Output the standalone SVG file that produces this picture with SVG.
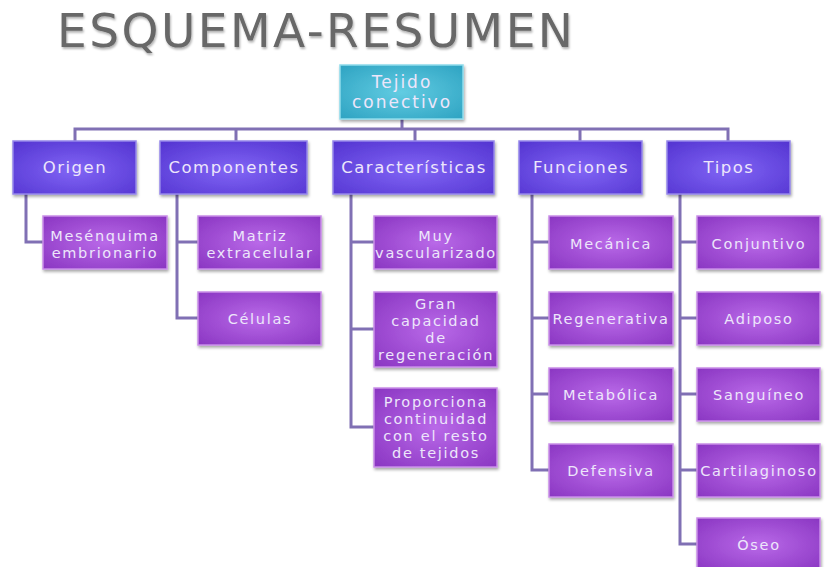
<svg xmlns="http://www.w3.org/2000/svg" width="826" height="567" viewBox="0 0 826 567">
<defs>
<radialGradient id="gL1" cx="0.5" cy="0.55" r="0.7">
<stop offset="0" stop-color="#8165f5"/>
<stop offset="1" stop-color="#5536d2"/>
</radialGradient>
<radialGradient id="gL2" cx="0.5" cy="0.5" r="0.7">
<stop offset="0" stop-color="#b969e8"/>
<stop offset="1" stop-color="#8a36c2"/>
</radialGradient>
<radialGradient id="gRoot" cx="0.5" cy="0.5" r="0.7">
<stop offset="0" stop-color="#62cce2"/>
<stop offset="1" stop-color="#2ea3c2"/>
</radialGradient>
<filter id="sh" x="-10%" y="-10%" width="125%" height="135%">
<feDropShadow dx="1" dy="2" stdDeviation="1.5" flood-color="#000" flood-opacity="0.35"/>
</filter>
<filter id="tsh" x="-5%" y="-10%" width="110%" height="130%">
<feDropShadow dx="1" dy="2" stdDeviation="1.2" flood-color="#000" flood-opacity="0.3"/>
</filter>
</defs>
<style>
.title{font-family:"DejaVu Sans",sans-serif;font-size:47px;fill:#676767}
.l1 rect{fill:url(#gL1);stroke:#9586ea;stroke-width:1.5;filter:url(#sh)}
.l2 rect{fill:url(#gL2);stroke:#c98ee8;stroke-width:1.5;filter:url(#sh)}
.root rect{fill:url(#gRoot);stroke:#8fdcec;stroke-width:1.5;filter:url(#sh)}
text.t{font-family:"DejaVu Sans",sans-serif;fill:#ede6fb;text-anchor:middle}
.l1 text{font-size:16.5px;letter-spacing:1.5px}
.l2 text{font-size:14.5px;letter-spacing:1.7px}
.root text{font-size:17px;letter-spacing:2px}
.conn path{fill:none;stroke:#8070b4;stroke-width:3}
</style>
<rect width="826" height="567" fill="#ffffff"/>
<text class="title" x="57" y="47" textLength="516" lengthAdjust="spacing" filter="url(#tsh)">ESQUEMA-RESUMEN</text>

<g class="conn" id="connectors">
<path d="M402 119V129M75 141V129H728V141M236 129V141M415 129V141M580 129V141"/>
<path d="M26 194V242H43"/>
<path d="M177 194V318H198M177 242H198"/>
<path d="M351 194V427H374M351 242H374M351 329H374"/>
<path d="M532 194V470H549M532 242H549M532 318H549M532 394H549"/>
<path d="M680 194V544H697M680 242H697M680 318H697M680 394H697M680 470H697"/>
</g>

<g class="root" id="tejido">
<rect x="340" y="65" width="123" height="54"/>
<text class="t" x="402" y="88">Tejido</text>
<text class="t" x="402" y="108">conectivo</text>
</g>

<g class="l1" id="origen"><rect x="13" y="141" width="123" height="53"/><text class="t" x="75" y="173">Origen</text></g>
<g class="l1" id="componentes"><rect x="160" y="141" width="147" height="53"/><text class="t" x="234" y="173">Componentes</text></g>
<g class="l1" id="caracteristicas"><rect x="333" y="141" width="161" height="53"/><text class="t" x="414" y="173">Características</text></g>
<g class="l1" id="funciones"><rect x="519" y="141" width="123" height="53"/><text class="t" x="581" y="173">Funciones</text></g>
<g class="l1" id="tipos"><rect x="667" y="141" width="123" height="53"/><text class="t" x="729" y="173">Tipos</text></g>

<g class="l2" id="mesenquima"><rect x="43" y="216" width="124" height="53"/><text class="t" x="105" y="241">Mesénquima</text><text class="t" x="105" y="258">embrionario</text></g>
<g class="l2" id="matriz"><rect x="198" y="216" width="123" height="53"/><text class="t" x="260" y="241">Matriz</text><text class="t" x="260" y="258">extracelular</text></g>
<g class="l2" id="celulas"><rect x="198" y="292" width="123" height="53"/><text class="t" x="260" y="324">Células</text></g>

<g class="l2" id="muy"><rect x="374" y="216" width="123" height="53"/><text class="t" x="436" y="241">Muy</text><text class="t" x="436" y="258">vascularizado</text></g>
<g class="l2" id="gran"><rect x="374" y="292" width="123" height="75"/><text class="t" x="436" y="309">Gran</text><text class="t" x="436" y="326">capacidad</text><text class="t" x="436" y="343">de</text><text class="t" x="436" y="360">regeneración</text></g>
<g class="l2" id="proporciona"><rect x="374" y="388" width="123" height="79"/><text class="t" x="436" y="407">Proporciona</text><text class="t" x="436" y="424">continuidad</text><text class="t" x="436" y="441">con el resto</text><text class="t" x="436" y="458">de tejidos</text></g>

<g class="l2" id="mecanica"><rect x="549" y="216" width="124" height="53"/><text class="t" x="611" y="249">Mecánica</text></g>
<g class="l2" id="regenerativa"><rect x="549" y="292" width="124" height="53"/><text class="t" x="611" y="324">Regenerativa</text></g>
<g class="l2" id="metabolica"><rect x="549" y="368" width="124" height="53"/><text class="t" x="611" y="400">Metabólica</text></g>
<g class="l2" id="defensiva"><rect x="549" y="444" width="124" height="53"/><text class="t" x="611" y="476">Defensiva</text></g>

<g class="l2" id="conjuntivo"><rect x="697" y="216" width="123" height="53"/><text class="t" x="759" y="249">Conjuntivo</text></g>
<g class="l2" id="adiposo"><rect x="697" y="292" width="123" height="53"/><text class="t" x="759" y="324">Adiposo</text></g>
<g class="l2" id="sanguineo"><rect x="697" y="368" width="123" height="53"/><text class="t" x="759" y="400">Sanguíneo</text></g>
<g class="l2" id="cartilaginoso"><rect x="697" y="444" width="123" height="53"/><text class="t" x="759" y="476">Cartilaginoso</text></g>
<g class="l2" id="oseo"><rect x="697" y="518" width="123" height="53"/><text class="t" x="759" y="550">Óseo</text></g>
</svg>
